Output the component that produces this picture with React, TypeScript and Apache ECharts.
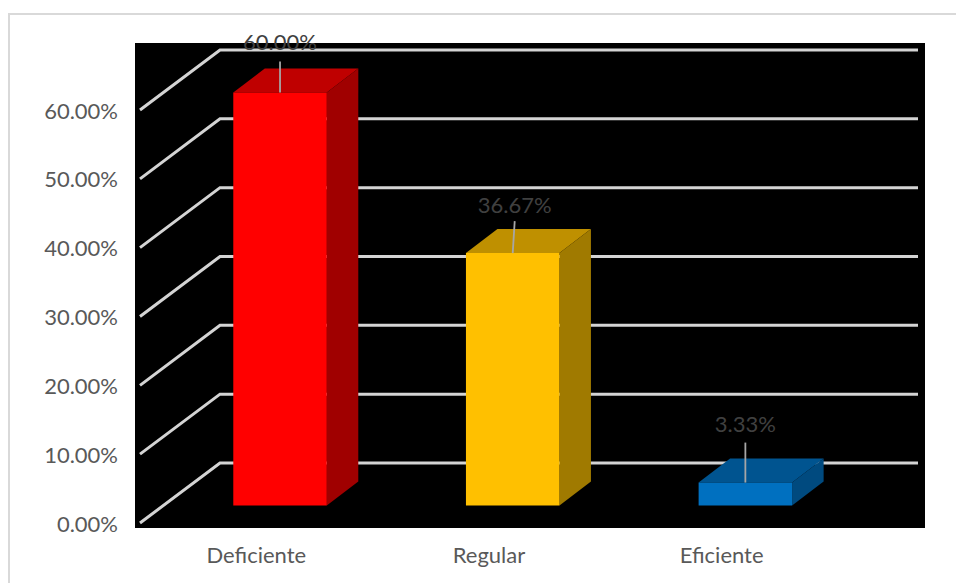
import React, { useEffect, useRef } from "react";
import * as echarts from "echarts";

// Percentage of responses per rating level
const categories = ["Deficiente", "Regular", "Eficiente"];
const percentages = [60.0, 36.67, 3.33];
const tickValues = [0, 10, 20, 30, 40, 50, 60];

// Face colours of each box: front, top, side
const frontColors = ["#ff0000", "#ffc000", "#0070c0"];
const topColors = ["#bf0000", "#bf9000", "#005490"];
const sideColors = ["#a00000", "#a07a00", "#004a7f"];

// Label placement above each box: horizontal and vertical distance, leader start
const labelDx = [0, 2, 0];
const labelRise = [51, 49, 59];
const leaderRise = [31, 32, 40];

const FONT = "Lato";
const FONT_SIZE = 22;
const WALL_DX = 80;
const WALL_DY = -60;
const BOX_DX = 31.5;
const BOX_DY = -24;
const BOX_SHIFT_X = 23.7;
const BOX_SHIFT_Y = -17.5;
const BOX_WIDTH = 93.5;

const percent = (v: number) => `${v.toFixed(2)}%`;

function renderWall(params: any, api: any) {
  const tick = api.value(0);
  const sys = params.coordSys;
  const y = api.coord([0, tick])[1];
  return {
    type: "polyline",
    shape: {
      points: [
        [sys.x, y],
        [sys.x + WALL_DX, y + WALL_DY],
        [sys.x + sys.width + WALL_DX, y + WALL_DY],
      ],
    },
    style: { stroke: "#d4d4d4", lineWidth: 3, fill: null },
  };
}

function renderBox(params: any, api: any) {
  const i = api.value(0);
  const value = api.value(1);
  const top = api.coord([i, value]);
  const base = api.coord([i, 0]);
  const cx = top[0] + BOX_SHIFT_X;
  const x0 = cx - BOX_WIDTH / 2;
  const x1 = cx + BOX_WIDTH / 2;
  const yt = top[1] + BOX_SHIFT_Y;
  const yb = base[1] + BOX_SHIFT_Y;
  const poly = (points: number[][], fill: string) => ({
    type: "polygon",
    shape: { points },
    style: { fill },
  });
  return {
    type: "group",
    children: [
      poly(
        [
          [x0, yt],
          [x0 + BOX_DX, yt + BOX_DY],
          [x1 + BOX_DX, yt + BOX_DY],
          [x1, yt],
        ],
        topColors[i]
      ),
      poly(
        [
          [x1, yt],
          [x1 + BOX_DX, yt + BOX_DY],
          [x1 + BOX_DX, yb + BOX_DY],
          [x1, yb],
        ],
        sideColors[i]
      ),
      poly(
        [
          [x0, yt],
          [x1, yt],
          [x1, yb],
          [x0, yb],
        ],
        frontColors[i]
      ),
      {
        type: "line",
        shape: { x1: cx, y1: yt, x2: cx + labelDx[i], y2: yt - leaderRise[i] },
        style: { stroke: "#a6a6a6", lineWidth: 1.8 },
      },
      {
        type: "text",
        style: {
          x: cx + labelDx[i],
          y: yt - labelRise[i],
          text: percent(value),
          fill: "#404040",
          font: `${FONT_SIZE}px ${FONT}`,
          align: "center",
          verticalAlign: "middle",
        },
      },
    ],
  };
}

export default function App() {
  const ref = useRef<HTMLDivElement>(null);

  useEffect(() => {
    document.body.style.margin = "0";
    const chart = echarts.init(ref.current!, null, { renderer: "svg" });
    chart.setOption({
      animation: false,
      backgroundColor: "#ffffff",
      grid: { left: 140, right: 118, top: 110, bottom: 60 },
      xAxis: {
        type: "category",
        data: categories,
        axisLine: { show: false },
        axisTick: { show: false },
        axisLabel: { color: "#595959", fontFamily: FONT, fontSize: FONT_SIZE, margin: 20 },
      },
      yAxis: {
        type: "value",
        min: 0,
        max: 60,
        interval: 10,
        axisLine: { show: false },
        axisTick: { show: false },
        splitLine: { show: false },
        axisLabel: {
          color: "#595959",
          fontFamily: FONT,
          fontSize: FONT_SIZE,
          margin: 22,
          formatter: percent,
        },
      },
      graphic: [
        {
          type: "rect",
          z: -1,
          shape: { x: 135, y: 43, width: 790, height: 485 },
          style: { fill: "#000000" },
        },
        {
          type: "polyline",
          z: -1,
          shape: { points: [[9, 583], [9, 14], [956, 14]] },
          style: { stroke: "#d9d9d9", lineWidth: 2, fill: null },
        },
      ],
      series: [
        {
          type: "custom",
          coordinateSystem: "cartesian2d",
          clip: false,
          z: 2,
          data: tickValues.map((t) => [t]),
          encode: { y: 0 },
          renderItem: renderWall,
          silent: true,
        },
        {
          type: "custom",
          coordinateSystem: "cartesian2d",
          clip: false,
          z: 3,
          data: percentages.map((p, i) => [i, p]),
          encode: { x: 0, y: 1 },
          renderItem: renderBox,
          silent: true,
        },
      ],
    });
    return () => chart.dispose();
  }, []);

  return <div ref={ref} style={{ width: 956, height: 583 }} />;
}
